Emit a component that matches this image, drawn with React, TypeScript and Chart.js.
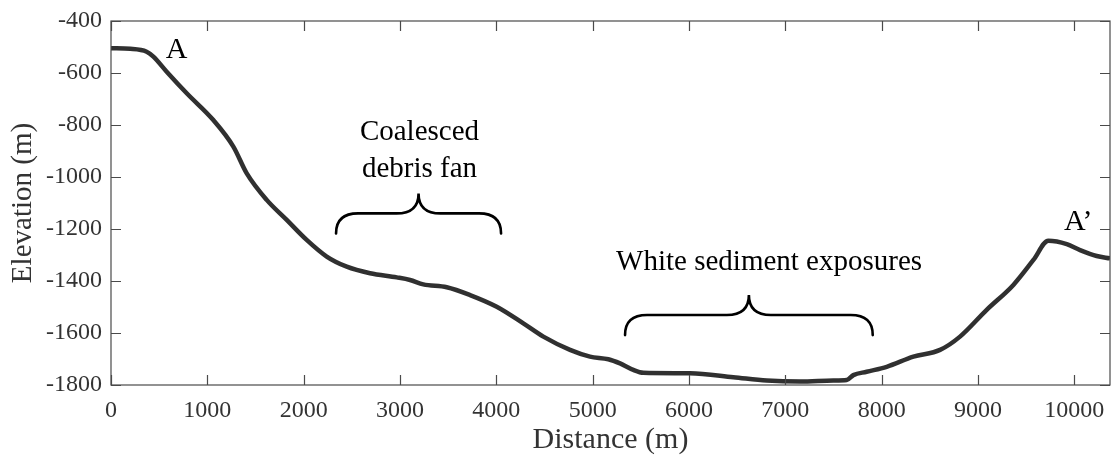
import React, { useEffect, useRef } from "react";
import { Chart, registerables } from "chart.js";
Chart.register(...registerables);

const distance = [0, 200, 370, 440, 578, 786, 1062, 1270, 1409, 1616, 1824, 2031, 2239, 2447, 2689, 2966, 3104, 3242, 3485, 3727, 4004, 4280, 4488, 4765, 4972, 5163, 5284, 5422, 5526, 6011, 6460, 6807, 7153, 7498, 7637, 7706, 7844, 8052, 8329, 8606, 8813, 9090, 9367, 9575, 9730, 9921, 10059, 10232, 10370];
const elevation = [-505, -507, -518, -537, -595, -678, -781, -883, -986, -1088, -1165, -1242, -1306, -1345, -1370, -1386, -1396, -1413, -1424, -1454, -1499, -1563, -1614, -1665, -1691, -1701, -1717, -1742, -1753, -1755, -1770, -1783, -1787, -1783, -1781, -1762, -1749, -1730, -1691, -1665, -1614, -1511, -1415, -1319, -1245, -1258, -1281, -1304, -1313];

const xTicks = [0, 1000, 2000, 3000, 4000, 5000, 6000, 7000, 8000, 9000, 10000];
const yTicks = [-1800, -1600, -1400, -1200, -1000, -800, -600, -400];

const noteTexts = ["A", "A\u2019", "Coalesced", "debris fan", "White sediment exposures"];
const noteX = [680, 10040, 3202, 3202, 6831];
const noteY = [-543, -1204, -858, -999, -1358];

const braceStart = [2336, 5336];
const braceEnd = [4049, 7907];
const braceTip = [-1217, -1608];
const bracePeak = [-1063, -1454];

const SERIF = '"Liberation Serif", "Times New Roman", serif';

const framePlugin = {
  id: "frameAndNotes",
  afterDraw(chart: any) {
    const ctx = chart.ctx;
    const { left, right, top, bottom } = chart.chartArea;
    const xs = chart.scales.x;
    const ys = chart.scales.y;
    ctx.save();
    ctx.strokeStyle = "#4a4a4a";
    ctx.lineWidth = 1.2;
    ctx.strokeRect(left, top, right - left, bottom - top);
    const tl = 10;
    ctx.beginPath();
    xTicks.forEach((v) => {
      const px = Math.round(xs.getPixelForValue(v)) + 0.5;
      ctx.moveTo(px, bottom);
      ctx.lineTo(px, bottom - tl);
      ctx.moveTo(px, top);
      ctx.lineTo(px, top + tl);
    });
    yTicks.forEach((v) => {
      const py = Math.round(ys.getPixelForValue(v)) + 0.5;
      ctx.moveTo(left, py);
      ctx.lineTo(left + tl, py);
      ctx.moveTo(right, py);
      ctx.lineTo(right - tl, py);
    });
    ctx.stroke();

    ctx.fillStyle = "#000";
    ctx.textAlign = "center";
    ctx.textBaseline = "alphabetic";
    noteTexts.forEach((t, i) => {
      ctx.font = (i < 2 ? "30px " : "29px ") + SERIF;
      ctx.fillText(t, xs.getPixelForValue(noteX[i]), ys.getPixelForValue(noteY[i]));
    });

    ctx.strokeStyle = "#000";
    ctx.lineWidth = 2.6;
    ctx.lineCap = "round";
    const r = 22;
    braceStart.forEach((s, i) => {
      const x1 = xs.getPixelForValue(s);
      const x2 = xs.getPixelForValue(braceEnd[i]);
      const xm = (x1 + x2) / 2;
      const yT = ys.getPixelForValue(braceTip[i]);
      const yP = ys.getPixelForValue(bracePeak[i]);
      const yH = (yT + yP) / 2;
      ctx.beginPath();
      ctx.moveTo(x1, yT);
      ctx.quadraticCurveTo(x1, yH, x1 + r, yH);
      ctx.lineTo(xm - r, yH);
      ctx.quadraticCurveTo(xm, yH, xm, yP);
      ctx.quadraticCurveTo(xm, yH, xm + r, yH);
      ctx.lineTo(x2 - r, yH);
      ctx.quadraticCurveTo(x2, yH, x2, yT);
      ctx.stroke();
    });
    ctx.restore();
  },
};

export default function App() {
  const ref = useRef<HTMLCanvasElement>(null);
  useEffect(() => {
    if (!ref.current) return;
    const chart = new Chart(ref.current, {
      type: "line",
      data: {
        datasets: [
          {
            data: distance.map((d, i) => ({ x: d, y: elevation[i] })),
            borderColor: "rgba(30,30,30,0.92)",
            borderWidth: 4.5,
            pointRadius: 0,
            cubicInterpolationMode: "monotone",
            fill: false,
          },
        ],
      },
      options: {
        animation: false,
        responsive: false,
        maintainAspectRatio: false,
        layout: { padding: { left: 0, top: 21, right: 2, bottom: 0 } },
        plugins: { legend: { display: false }, tooltip: { enabled: false } },
        scales: {
          x: {
            type: "linear",
            min: 0,
            max: 10370,
            afterFit: (s: any) => { s.height = 72; s.paddingLeft = 0; s.paddingRight = 0; },
            afterBuildTicks: (s: any) => { s.ticks = xTicks.map((v) => ({ value: v })); },
            ticks: {
              includeBounds: false,
              autoSkip: false,
              maxRotation: 0,
              padding: 11,
              color: "#333",
              font: { family: SERIF, size: 24 },
              callback: (v: any) => String(v),
            },
            grid: { display: false, drawTicks: false },
            border: { display: false },
            title: {
              display: true,
              text: "Distance (m)",
              color: "#333",
              font: { family: SERIF, size: 30 },
              padding: { top: 0, bottom: -1 },
            },
          },
          y: {
            type: "linear",
            min: -1800,
            max: -400,
            afterFit: (s: any) => { s.width = 111; s.paddingTop = 0; s.paddingBottom = 0; },
            afterBuildTicks: (s: any) => { s.ticks = yTicks.map((v) => ({ value: v })); },
            ticks: {
              includeBounds: false,
              autoSkip: false,
              padding: 9,
              color: "#333",
              font: { family: SERIF, size: 24 },
              callback: (v: any) => String(v),
            },
            grid: { display: false, drawTicks: false },
            border: { display: false },
            title: {
              display: true,
              text: "Elevation (m)",
              color: "#333",
              font: { family: SERIF, size: 29 },
              padding: { top: 6, bottom: 0 },
            },
          },
        },
      },
      plugins: [framePlugin],
    });
    return () => chart.destroy();
  }, []);
  return (
    <div style={{ position: "fixed", left: 0, top: 0, width: 1112, height: 457, background: "#fff" }}>
      <canvas ref={ref} width={1112} height={457} style={{ width: 1112, height: 457, display: "block" }} />
    </div>
  );
}
